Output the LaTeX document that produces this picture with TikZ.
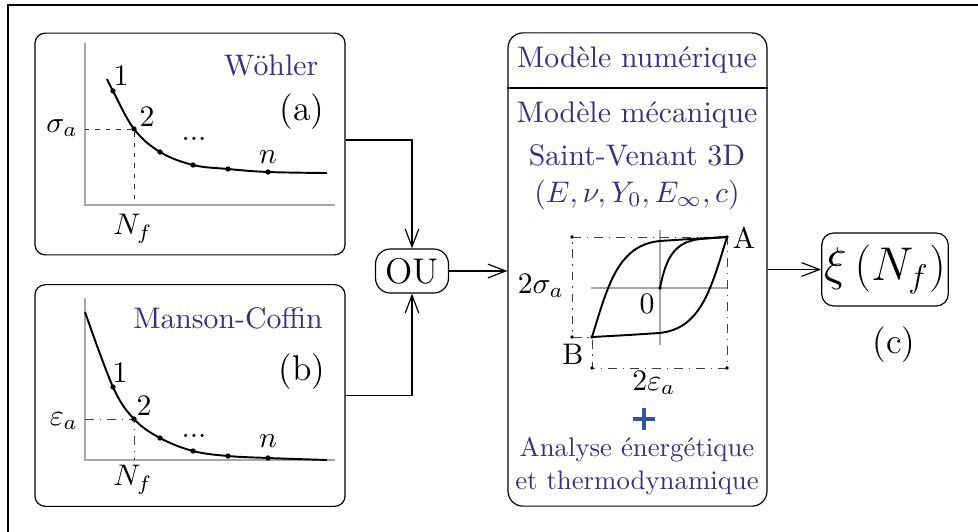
\documentclass[tikz,border=0pt]{standalone}
\usetikzlibrary{arrows.meta}
\definecolor{bleu}{RGB}{56,46,134}
\definecolor{bleuplus}{RGB}{52,82,170}
\tikzset{
  bloc/.style={draw, rounded corners=3.5pt, minimum width=104.2pt, minimum height=74.5pt, inner sep=0pt},
  fleche/.style={-{Straight Barb[length=6pt,width=4.6pt]}},
  axe/.style={draw=black!35, line width=0.4pt},
  tiret/.style={dash dot, line width=0.3pt, black!75},
  courbe/.style={line width=0.65pt},
}
\begin{document}
\begin{tikzpicture}[x=0.336pt,y=-0.336pt]
            \clip (0,0) rectangle (978,531);
            \draw [line width=0.7pt] (8,5) rectangle (1010,560);

            % bloc (a) : Wohler
            \node [bloc] (boxa) at (190,144) {};
            \draw [axe] (85,43) -- (85,205) -- (335,205);
            \draw [dash pattern=on 1.5pt off 2pt, line width=0.3pt, black!80] (85,129) -- (134,129) -- (134,205);
            \draw [courbe] plot [smooth, tension=0.6] coordinates
                {(107,79) (113,91) (134,129) (160,152) (193,165) (228,169) (268,172) (327,173)};
            \foreach \x/\y in {113/91,134/129,160/152,193/165,228/169,268/172}
                \fill (\x,\y) circle (0.9pt);
            \path (271,65) node (wohler) [text=bleu] {Wöhler};
            \path (302,112) node (labela) {\large (a)};
            \path (121,76) node (a1) {1};
            \path (147,117) node (a2) {2};
            \path (194,140) node (adots) [anchor=base] {...};
            \path (268,157) node (an) {$n$};
            \path (62,128) node (sigma) {$\sigma_a$};
            \path (133,229) node (anf) {$N_f$};

            % bloc (b) : Manson-Coffin
            \node [bloc] (boxb) at (190,395.5) {};
            \draw [axe] (85,298) -- (85,460) -- (335,460);
            \draw [tiret] (85,419) -- (134,419) -- (134,460);
            \draw [courbe] plot [smooth, tension=0.6] coordinates
                {(85,312) (113,387) (134,419) (160,438) (193,451) (228,456) (268,458) (327,460)};
            \foreach \x/\y in {113/387,134/419,160/438,193/451,228/456,268/458}
                \fill (\x,\y) circle (0.9pt);
            \path (228,318) node (manson) [text=bleu] {Manson-Coffin};
            \path (302,372) node (labelb) {\large (b)};
            \path (120,373) node (b1) {1};
            \path (144,406) node (b2) {2};
            \path (194,437) node (bdots) [anchor=base] {...};
            \path (268,441) node (bn) {$n$};
            \path (64,421) node (eps) {$\varepsilon_a$};
            \path (133,480) node (bnf) {$N_f$};

            % OU
            \node [draw, rounded corners=5pt, minimum width=24.5pt, minimum height=14.8pt, inner sep=0pt]
                (ou) at (412,271) {\large OU};
            \draw [fleche] (boxa.east |- 0,140) -| (ou.north);
            \draw [fleche] (boxb.east) -| (ou.south);

            % modele numerique
            \node [draw, rounded corners=5pt, minimum width=87pt, minimum height=159pt, inner sep=0pt]
                (modele) at (637.5,269.5) {};
            \draw (modele.west |- 0,88) -- (modele.east |- 0,88);
            \draw [fleche] (ou.east) -- (modele.west |- ou.east);
            \path (637,60) node (num) [text=bleu] {Modèle numérique};
            \path (637,115) node (meca) [text=bleu] {Modèle mécanique};
            \path (637,155) node (sv) [text=bleu] {Saint-Venant 3D};
            \path (637,195) node (param) [text=bleu] {$(E,\nu,Y_0,E_\infty,c)$};

            % boucle d'hysteresis
            \coordinate (A) at (727,237);
            \coordinate (B) at (592,337);
            \coordinate (O) at (660,288);
            \draw [axe] (591,288) -- (728,288);
            \draw [axe] (660,230) -- (660,345);
            \draw [tiret] (572,237) -- (A) -- (727,368) -- (592,368) -- (B) -- (572,337) -- cycle;
            \foreach \p in {(572,237),(572,337),(592,368),(727,368),(A),(B),(O)}
                \fill \p circle (0.6pt);
            \draw [courbe] (B) .. controls (608,285) and (618,245) .. (660,241)
                .. controls (690,239) .. (A);
            \draw [courbe] (A) .. controls (711,289) and (701,329) .. (659,333)
                .. controls (629,335) .. (B);
            \draw [courbe] (O) .. controls (666,258) and (674,242) .. (700,239) -- (A);
            \path (744,238) node (labA) {A};
            \path (573,354) node (labB) {B};
            \path (647,304) node (lab0) {0};
            \path (541,286) node (ds) {$2\sigma_a$};
            \path (654,383) node (de) {$2\varepsilon_a$};
            \draw [bleuplus, line width=1.4pt] (633,419) -- (655,419) (644,408) -- (644,430);
            \path (637,450) node (ana) [text=bleu, scale=0.9] {Analyse énergétique};
            \path (637,483) node (thermo) [text=bleu, scale=0.9] {et thermodynamique};

            % resultat (c)
            \node [draw, rounded corners=4pt, minimum width=41.7pt, minimum height=24.5pt, inner xsep=0.8pt, inner ysep=0pt]
                (xi) at (885,269.5) {\scalebox{0.92}{\LARGE $\xi\left(N_f\right)$}};
            \draw [fleche] (modele.east |- xi.west) -- (xi.west);
            \path (894,345) node (labc) {\large (c)};
        \end{tikzpicture}
\end{document}
